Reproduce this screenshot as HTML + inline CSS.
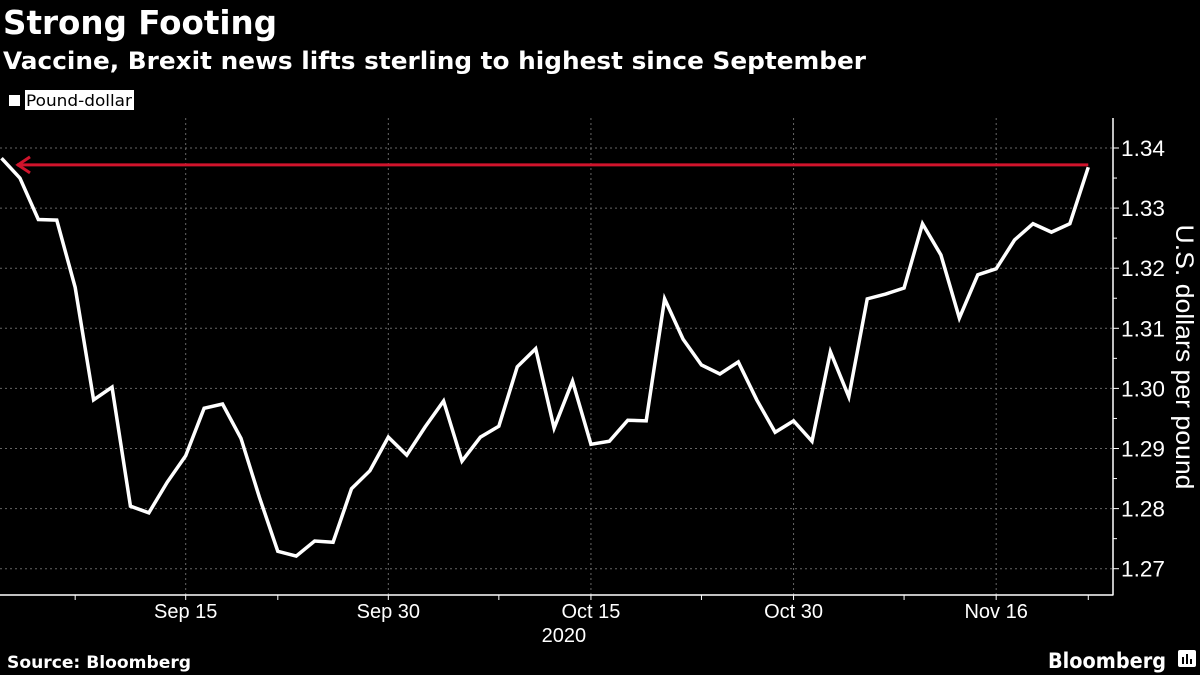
<!DOCTYPE html>
<html><head><meta charset="utf-8"><style>
html,body{margin:0;padding:0;background:#000;width:1200px;height:675px;overflow:hidden;font-family:"Liberation Sans","DejaVu Sans",sans-serif;color:#fff}
</style></head><body>
<svg width="1200" height="675" style="position:absolute;left:0;top:0" id="c">
<text x="3" y="34" font-size="33" font-weight="bold" fill="#fff" font-family="DejaVu Sans, sans-serif" textLength="274" lengthAdjust="spacingAndGlyphs">Strong Footing</text>
<text x="3" y="69" font-size="24" font-weight="bold" fill="#fff" font-family="DejaVu Sans, sans-serif" textLength="863" lengthAdjust="spacingAndGlyphs">Vaccine, Brexit news lifts sterling to highest since September</text>
<g>
<rect x="9" y="95" width="11" height="11" fill="#fff"/>
<rect x="25" y="90" width="109" height="20" fill="#fff"/>
<text x="26" y="106" font-size="16" fill="#000" font-family="DejaVu Sans, sans-serif" textLength="106" lengthAdjust="spacingAndGlyphs">Pound-dollar</text>
</g>
<g id="grid"></g><g id="axes"></g><g id="series"></g>
<text x="7" y="668" font-size="17" font-weight="bold" fill="#fff" font-family="DejaVu Sans, sans-serif" textLength="184" lengthAdjust="spacingAndGlyphs">Source: Bloomberg</text>
<text x="1048" y="668" font-size="21" font-weight="bold" fill="#fff" font-family="DejaVu Sans, sans-serif" textLength="118" lengthAdjust="spacingAndGlyphs">Bloomberg</text>
<g><rect x="1178" y="650" width="18" height="17" rx="2" fill="#fff"/><rect x="1182" y="657" width="2" height="7" fill="#000"/><rect x="1186" y="654" width="2" height="10" fill="#000"/><rect x="1190" y="659" width="2" height="5" fill="#000"/></g>
</svg>
<script>
const values=[1.3383,1.3350,1.3281,1.3280,1.3168,1.2981,1.3002,1.2804,1.2793,1.2844,1.2888,1.2967,1.2974,1.2917,1.2819,1.2729,1.2721,1.2746,1.2744,1.2833,1.2863,1.2919,1.2889,1.2936,1.2979,1.2879,1.2919,1.2937,1.3036,1.3066,1.2934,1.3012,1.2907,1.2912,1.2947,1.2946,1.3149,1.3082,1.3039,1.3024,1.3044,1.2981,1.2927,1.2946,1.2912,1.3061,1.2986,1.3149,1.3157,1.3167,1.3274,1.3222,1.3117,1.3189,1.3199,1.3247,1.3274,1.3260,1.3274,1.3368];
const yTicks=[1.27,1.28,1.29,1.30,1.31,1.32,1.33,1.34];
const xLabels=["Sep 15","Sep 30","Oct 15","Oct 30","Nov 16"];
const xLabelIdx=[10,21,32,43,54];
const xTickIdx=[4,10,15,21,27,32,38,43,49,54,59];
const refLevel=1.3372;
const NS='http://www.w3.org/2000/svg';
function X(i){return 1.5+i*18.42;}
function Y(v){return 148+(1.34-v)*6010;}
function mk(tag,at,par){const e=document.createElementNS(NS,tag);for(const k in at)e.setAttribute(k,at[k]);document.getElementById(par).appendChild(e);return e;}
yTicks.forEach(v=>{
 const g=mk('line',{x1:0,x2:1112,y1:Y(v),y2:Y(v),stroke:'#666','stroke-dasharray':'2,3','stroke-width':1},'grid');
 
 
 const t=mk('line',{x1:1113,x2:1119,y1:Y(v),y2:Y(v),stroke:'#fff'},'axes');
 
 
 const l=mk('text',{x:1121,y:Y(v)+8,'font-size':22,fill:'#fff',textLength:44,lengthAdjust:'spacingAndGlyphs'},'axes');
 l.textContent=v.toFixed(2);
 
 
});
for(let k=0;k<yTicks.length-1;k++){
 const m=(yTicks[k]+yTicks[k+1])/2;
 const t=mk('line',{x1:1113,x2:1117,y1:Y(m),y2:Y(m),stroke:'#fff'},'axes');
 
 
}
xLabelIdx.forEach((i,k)=>{
 const g=mk('line',{x1:X(i),x2:X(i),y1:118,y2:595,stroke:'#666','stroke-dasharray':'2,3'},'grid');
 
 
 const l=mk('text',{x:X(i),y:618,'font-size':20,fill:'#fff','text-anchor':'middle'},'axes');
 l.textContent=xLabels[k];
 
 
});
xTickIdx.forEach(i=>{
 const t=mk('line',{x1:X(i),x2:X(i),y1:595,y2:600,stroke:'#fff'},'axes');
 
 
});
const yr=mk('text',{x:X(27)+65,y:642,'font-size':20,fill:'#fff','text-anchor':'middle'},'axes');
yr.textContent='2020';


const xa=mk('line',{x1:0,x2:1113.5,y1:595,y2:595,stroke:'#fff','stroke-width':1.5},'axes');


const ya=mk('line',{x1:1113,x2:1113,y1:118,y2:595,stroke:'#fff','stroke-width':1.5},'axes');


const yt=mk('text',{x:0,y:0,'font-size':25,fill:'#fff','text-anchor':'middle',textLength:265,lengthAdjust:'spacingAndGlyphs',transform:'translate(1176,357) rotate(90)'},'axes');
yt.textContent='U.S. dollars per pound';


const ry=Y(refLevel);
const rl=mk('line',{x1:17,x2:X(values.length-1),y1:ry,y2:ry,stroke:'#d0142c','stroke-width':3},'series');


const ah=mk('polyline',{points:`30,${ry-8} 18,${ry} 30,${ry+8}`,fill:'none',stroke:'#d0142c','stroke-width':3},'series');


const pl=mk('polyline',{points:values.map((v,i)=>X(i)+','+Y(v)).join(' '),fill:'none',stroke:'#fff','stroke-width':3.5,'stroke-linejoin':'miter'},'series');


</script>
</body></html>
